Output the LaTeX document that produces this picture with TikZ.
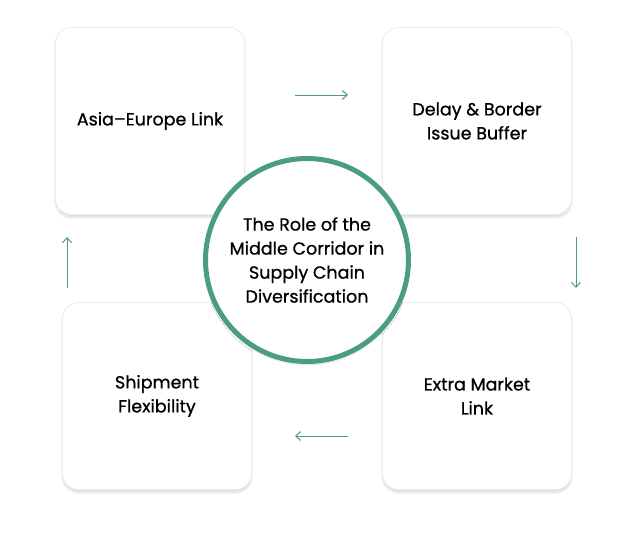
\documentclass[tikz,border=0pt]{standalone}
\usepackage{fontspec}
\setmainfont{Poppins}
\usetikzlibrary{arrows.meta,shadows.blur}
\definecolor{grn}{HTML}{4A9E7E}
\begin{document}
\begin{tikzpicture}[x=1pt,y=-1pt,
  box/.style={draw=black!8,fill=white,rounded corners=16pt,line width=0.8pt,minimum width=189pt,minimum height=187pt,
    blur shadow={shadow xshift=0pt,shadow yshift=-3pt,shadow blur steps=6,shadow opacity=14}},
  arr/.style={draw=grn,line width=1pt,-{Straight Barb[length=5pt,width=9pt]}},
  lab/.style={align=center,font=\fontsize{17.5}{24}\selectfont\addfontfeature{FakeBold=0.8}}]
\useasboundingbox (0,0) rectangle (626,544);
\node[box] (tl) at (150,121) {};
\node[lab] at (150,121) {Asia–Europe Link};
\node[box] (tr) at (477,121) {};
\node[lab] at (477,121) {Delay \& Border\\Issue Buffer};
\node[box] (bl) at (157,396) {};
\node[lab] at (157,396) {Shipment\\Flexibility};
\node[box] (br) at (477,396) {};
\node[lab] at (477,396) {Extra Market\\Link};
\node[circle,draw=grn,line width=5pt,fill=white,minimum size=203pt,
  blur shadow={shadow xshift=0pt,shadow yshift=-3pt,shadow opacity=15}] (c) at (307,260) {};
\node[lab] at (c.center) {The Role of the\\Middle Corridor in\\Supply Chain\\Diversification};
\coordinate (a1) at (295,95); \coordinate (a2) at (348,95);
\coordinate (b1) at (576,237); \coordinate (b2) at (576,288);
\coordinate (c1) at (348,436); \coordinate (c2) at (295,436);
\coordinate (d1) at (67,288); \coordinate (d2) at (67,237);
\draw[arr] (a1) -- (a2);
\draw[arr] (b1) -- (b2);
\draw[arr] (c1) -- (c2);
\draw[arr] (d1) -- (d2);
\end{tikzpicture}
\end{document}
